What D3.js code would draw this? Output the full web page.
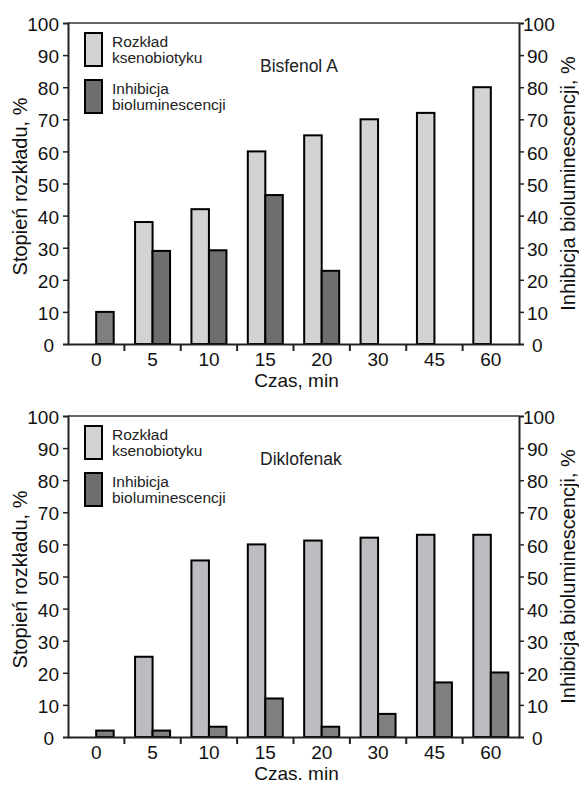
<!DOCTYPE html>
<html>
<head>
<meta charset="utf-8">
<script src="https://cdn.jsdelivr.net/npm/d3@7"></script>
<style>
  html, body { margin: 0; padding: 0; background: #fff; }
  svg { display: block; font-family: "Liberation Sans", Arial, Helvetica, sans-serif; }
</style>
</head>
<body>
<svg id="chart" width="579" height="785"></svg>
<script>
// Time points (minutes)
const categories = ["0", "5", "10", "15", "20", "30", "45", "60"];

// Bisfenol A: degree of degradation and bioluminescence inhibition, %
const bisfenolRozklad   = [null, 38, 42, 60, 65, 70, 72, 80];
const bisfenolInhibicja = [10, 29, 29.2, 46.4, 22.8, null, null, null];

// Diklofenak: degree of degradation and bioluminescence inhibition, %
const diklofenakRozklad   = [null, 25, 55, 60, 61.2, 62.1, 63, 63];
const diklofenakInhibicja = [2, 2, 3.2, 12, 3.2, 7.2, 17, 20.1];

const yTickValues = [0, 10, 20, 30, 40, 50, 60, 70, 80, 90, 100];
const legendLabels = [["Rozkład", "ksenobiotyku"], ["Inhibicja", "bioluminescencji"]];

const panels = [
  { title: "Bisfenol A", xTitle: "Czas, min", top: 23,
    rozklad: bisfenolRozklad, inhibicja: bisfenolInhibicja,
    lightFill: "#d3d3d5", darkFill: "#6e6e70", firstDarkFill: "#7f7f81" },
  { title: "Diklofenak", xTitle: "Czas. min", top: 416,
    rozklad: diklofenakRozklad, inhibicja: diklofenakInhibicja,
    lightFill: "#bcbdc0", darkFill: "#7f7f81", firstDarkFill: "#7f7f81" }
];

const left = 68, right = 519, plotH = 321;
const plotW = right - left;
const barW = 17.5;
const svg = d3.select("#chart");

panels.forEach(p => {
  const g = svg.append("g").attr("transform", `translate(${left},${p.top})`);

  const x = d3.scaleBand().domain(categories).range([0, plotW]).padding(0);
  const bw = x.bandwidth();
  const x1 = d3.scaleBand().domain(["r", "i"]).range([bw / 2 - barW, bw / 2 + barW]).padding(0);
  const y = d3.scaleLinear().domain([0, 100]).range([plotH, 0]);

  // Bars
  const rows = categories.map((c, i) => ({ c, i, r: p.rozklad[i], inh: p.inhibicja[i] }));
  const grp = g.selectAll("g.cat").data(rows).join("g")
    .attr("class", "cat")
    .attr("transform", d => `translate(${x(d.c)},0)`);

  grp.filter(d => d.r != null).append("rect")
    .attr("x", x1("r")).attr("width", x1.bandwidth())
    .attr("y", d => y(d.r)).attr("height", d => y(0) - y(d.r))
    .attr("fill", p.lightFill).attr("stroke", "#000").attr("stroke-width", 2);

  grp.filter(d => d.inh != null).append("rect")
    .attr("x", x1("i")).attr("width", x1.bandwidth())
    .attr("y", d => y(d.inh)).attr("height", d => y(0) - y(d.inh))
    .attr("fill", d => d.i === 0 ? p.firstDarkFill : p.darkFill)
    .attr("stroke", "#000").attr("stroke-width", 2);

  // Frame
  g.append("line").attr("x1", 0).attr("x2", plotW).attr("y1", 0).attr("y2", 0)
    .attr("stroke", "#333").attr("stroke-width", 1.5);

  // Left axis
  const yl = g.append("g").call(d3.axisLeft(y).tickValues(yTickValues).tickSize(5).tickPadding(4));
  // Right axis
  const yr = g.append("g").attr("transform", `translate(${plotW},0)`)
    .call(d3.axisRight(y).tickValues(yTickValues).tickSize(5).tickPadding(3));

  [yl, yr].forEach((ax, k) => {
    ax.select(".domain").attr("stroke", "#222").attr("stroke-width", 2);
    ax.selectAll(".tick line").attr("stroke", "#222").attr("stroke-width", 1.5);
    ax.selectAll(".tick").filter(d => d === 0 || d === 100).select("line").remove();
    ax.selectAll(".tick text").attr("font-size", 19).attr("fill", "#111").attr("dy", "0.4em");
    ax.selectAll(".tick").filter(d => d === 0).select("text")
      .attr("dx", k === 0 ? -5 : 5);
    ax.selectAll(".tick").filter(d => d === 100).select("text")
      .attr("dx", k === 0 ? 0 : -4);
  });

  // Bottom axis: category labels at band centres, ticks at band boundaries
  const xa = g.append("g").attr("transform", `translate(0,${plotH})`)
    .call(d3.axisBottom(x).tickSize(0).tickPadding(8));
  xa.select(".domain").attr("stroke", "#222").attr("stroke-width", 2);
  xa.selectAll(".tick text").attr("font-size", 19).attr("fill", "#111").attr("dy", "0.72em");
  g.append("g").selectAll("line")
    .data(categories.slice(1))
    .join("line")
    .attr("x1", d => x(d)).attr("x2", d => x(d))
    .attr("y1", plotH).attr("y2", plotH + 7)
    .attr("stroke", "#222").attr("stroke-width", 2);

  // X axis title
  g.append("text").attr("x", plotW / 2 + 3).attr("y", plotH + 43)
    .attr("text-anchor", "middle").attr("font-size", 19).attr("fill", "#111")
    .text(p.xTitle);

  // Y axis titles
  g.append("text")
    .attr("transform", `translate(${27 - left},${plotH / 2 + 3}) rotate(-90)`)
    .attr("text-anchor", "middle").attr("font-size", 20).attr("fill", "#111")
    .text("Stopień rozkładu, %");
  g.append("text")
    .attr("transform", `translate(${575 - left},${plotH / 2}) rotate(-90)`)
    .attr("text-anchor", "middle").attr("font-size", 20).attr("fill", "#111")
    .text("Inhibicja bioluminescencji, %");

  // Panel title
  g.append("text").attr("x", 192).attr("y", 49)
    .attr("font-size", 17.5).attr("fill", "#222").text(p.title);

  // Legend
  const legendFills = ["#d3d3d5", "#6e6e70"];
  legendLabels.forEach((lines, k) => {
    const ly = 10 + k * 47;
    g.append("rect").attr("x", 17).attr("y", ly).attr("width", 17).attr("height", 33)
      .attr("fill", legendFills[k]).attr("stroke", "#000").attr("stroke-width", 2);
    lines.forEach((t, j) => {
      g.append("text").attr("x", 44).attr("y", ly + 13.7 + j * 16.7)
        .attr("font-size", 15.5).attr("fill", "#222").text(t);
    });
  });
});
</script>
</body>
</html>
